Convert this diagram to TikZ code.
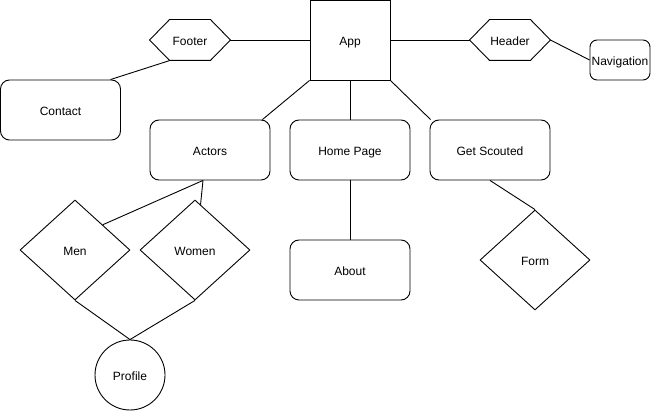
\documentclass[tikz,border=0pt]{standalone}
\usepackage{fontspec}
\setmainfont{Liberation Sans}
\usetikzlibrary{shapes.geometric,calc}
\tikzset{
  base/.style={draw=black,line width=0.9pt,inner sep=0pt,text height=11.5pt,text depth=1pt,font=\fontsize{12}{14}\selectfont},
  rbox/.style={base,rectangle,rounded corners=9pt,minimum width=120pt,minimum height=60pt},
  sqbox/.style={base,rectangle,minimum width=80pt,minimum height=80pt},
  hexbox/.style={base,draw=none,rectangle,minimum width=80pt,minimum height=40pt},
  dia/.style={base,diamond,minimum width=110pt,minimum height=100pt},
  circ/.style={base,circle,minimum size=70pt},
  link/.style={draw=black,line width=0.9pt}
}
\begin{document}
\begin{tikzpicture}[x=1pt,y=-1pt]
\useasboundingbox (0,0) rectangle (651,411);
\node[sqbox] (app) at (350,40) {App};
\node[hexbox] (footer) at (190,40) {Footer};
\node[hexbox] (header) at (510,40) {Header};
\draw[link] (footer.west) -- ([xshift=20pt]footer.north west) -- ([xshift=-20pt]footer.north east) -- (footer.east) -- ([xshift=-20pt]footer.south east) -- ([xshift=20pt]footer.south west) -- cycle;
\draw[link] (header.west) -- ([xshift=20pt]header.north west) -- ([xshift=-20pt]header.north east) -- (header.east) -- ([xshift=-20pt]header.south east) -- ([xshift=20pt]header.south west) -- cycle;
\node[base,rectangle,rounded corners=7pt,minimum width=60pt,minimum height=40pt] (nav) at (620,60) {Navigation};
\node[rbox] (contact) at (60.5,110) {Contact};
\node[rbox] (actors) at (210,150) {Actors};
\node[rbox] (home) at (350,150) {Home Page};
\node[rbox] (scout) at (490,150) {Get Scouted};
\node[rbox] (about) at (350,270) {About};
\node[dia] (men) at (75,250) {Men};
\node[dia] (women) at (195,250) {Women};
\node[dia] (form) at (535,260) {Form};
\node[circ] (profile) at (130,375) {Profile};
% connectors
\draw[link] (footer.east) -- (app.west);
\draw[link] ([xshift=-20pt]footer.south) -- ([xshift=50pt]contact.north);
\draw[link] (app.east) -- (header.west);
\draw[link] (header.east) -- (nav.west);
\draw[link] (app.south west) -- ([xshift=-8pt]actors.north east);
\draw[link] (app.south) -- (home.north);
\draw[link] (app.south east) -- ([shift={(1pt,0pt)}]scout.north west);
\draw[link] (home.south) -- (about.north);
\draw[link] (scout.south) -- (form.north);
\draw[link] ([xshift=-7pt]actors.south) -- ($(men.north)!0.5!(men.east)$);
\draw[link] ([xshift=-7pt]actors.south) -- ($(women.north)!0.1!(women.east)$);
\draw[link] (men.south) -- (profile.north);
\draw[link] (women.south) -- (profile.north);
\end{tikzpicture}
\end{document}
